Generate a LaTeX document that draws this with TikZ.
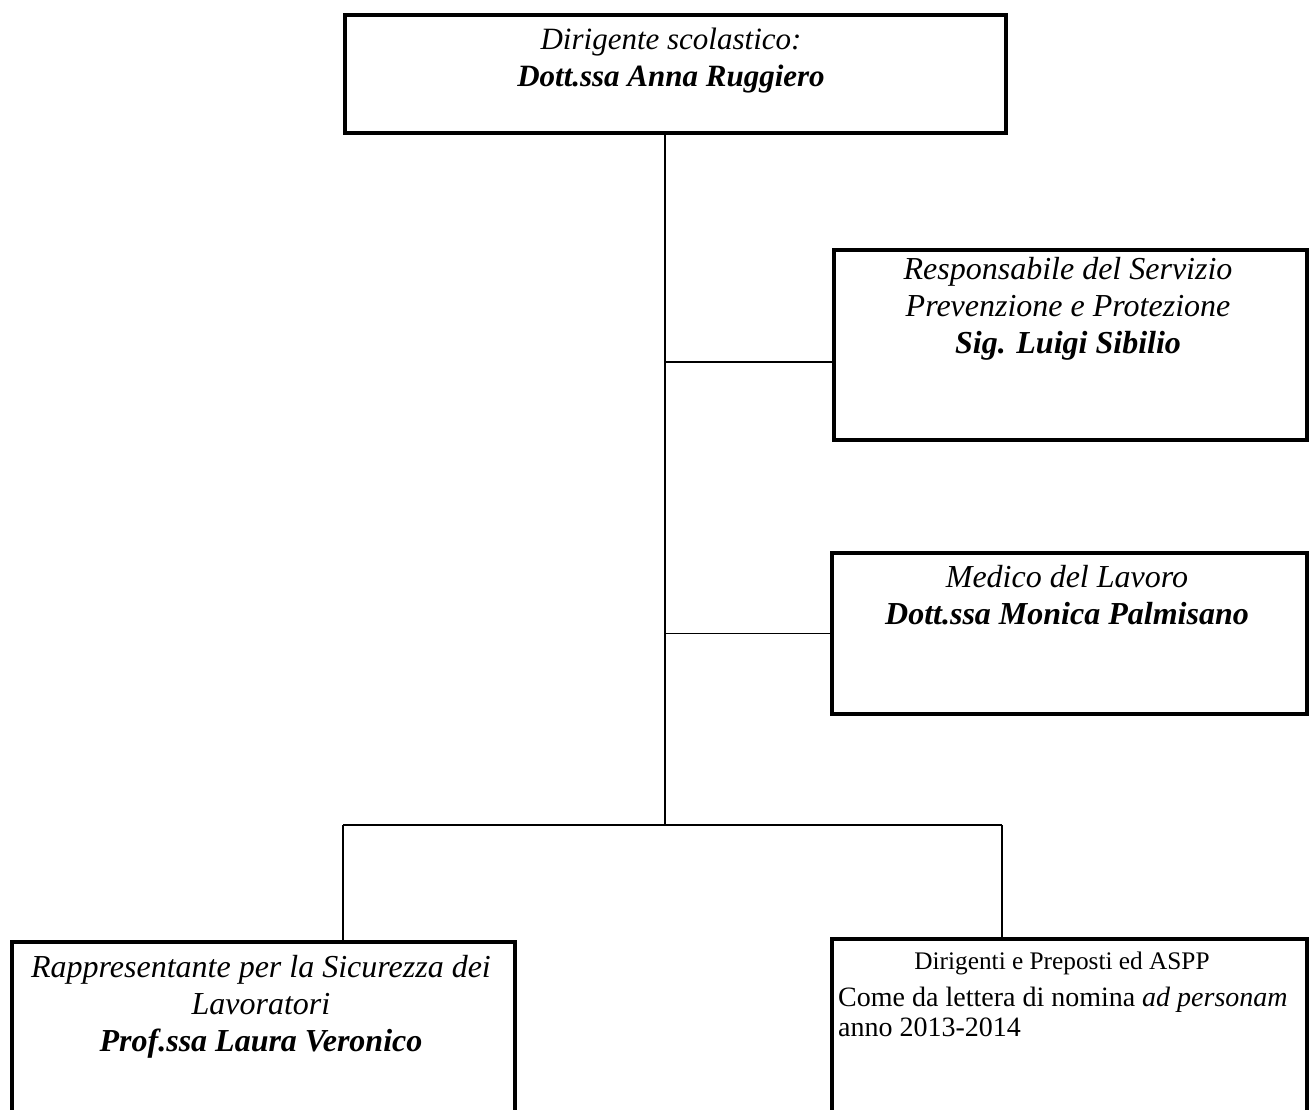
\documentclass[tikz,border=0pt]{standalone}
\usepackage{fontspec}
\setmainfont{Liberation Serif}
\begin{document}
\begin{tikzpicture}[x=1pt,y=-1pt,
 box/.style={draw=black, line width=3.5pt, rectangle, anchor=north west, inner sep=0pt},
 conn/.style={draw=black, line width=1.3pt},
 big/.style={font=\fontsize{32}{37}\selectfont, align=center, anchor=north, inner sep=0pt},
 small/.style={font=\fontsize{25.3}{30}\selectfont, inner sep=0pt},
 body/.style={font=\fontsize{28}{30}\selectfont, inner sep=0pt}]
\clip (0,0) rectangle (1309,1109);
\fill[white] (0,0) rectangle (1309,1109);
% boxes
\node[box, minimum width=661, minimum height=118] (dir) at (343,13) {};
\node[box, minimum width=473, minimum height=190] (rspp) at (832,248) {};
\node[box, minimum width=475, minimum height=161] (med) at (830,551) {};
\node[box, minimum width=503, minimum height=200] (rls) at (10,940) {};
\node[box, minimum width=475, minimum height=200] (dpa) at (830,937) {};
% connectors
\coordinate (tk) at (665,825);
\coordinate (r1) at (665,362);
\coordinate (bl) at (343,825);
\coordinate (br) at (1002,825);
\draw[conn] (dir.south -| tk) -- (tk);
\draw[conn] (r1) -- (r1 -| rspp.west);
\draw[conn] (med.west -| tk) -- (med.west);
\draw[conn] (bl) -- (br);
\draw[conn] (bl) -- (bl |- rls.north);
\draw[conn] (br) -- (br |- dpa.north);
% texts
\node[big, font=\fontsize{31}{37}\selectfont] (dirT) at (671,28) {{\itshape Dirigente scolastico:}\\{\bfseries\itshape Dott.ssa Anna Ruggiero}};
\node[big] (rsppT) at (1068,257) {{\itshape Responsabile del Servizio}\\{\itshape Prevenzione e Protezione}\\{\bfseries\itshape Sig. Luigi Sibilio}};
\node[big] (medT) at (1067,565) {{\itshape Medico del Lavoro}\\{\bfseries\itshape Dott.ssa Monica Palmisano}};
\node[big] (rlsT) at (261,955) {{\itshape Rappresentante per la Sicurezza dei}\\{\itshape Lavoratori}\\{\bfseries\itshape Prof.ssa Laura Veronico}};
\node[small, anchor=north] (dpaT) at (1062,952) {Dirigenti e Preposti ed ASPP};
\node[body, anchor=north west, align=left] (dpaB) at (838,987) {Come da lettera di nomina \textit{ad personam}\\anno 2013-2014};
\end{tikzpicture}
\end{document}
